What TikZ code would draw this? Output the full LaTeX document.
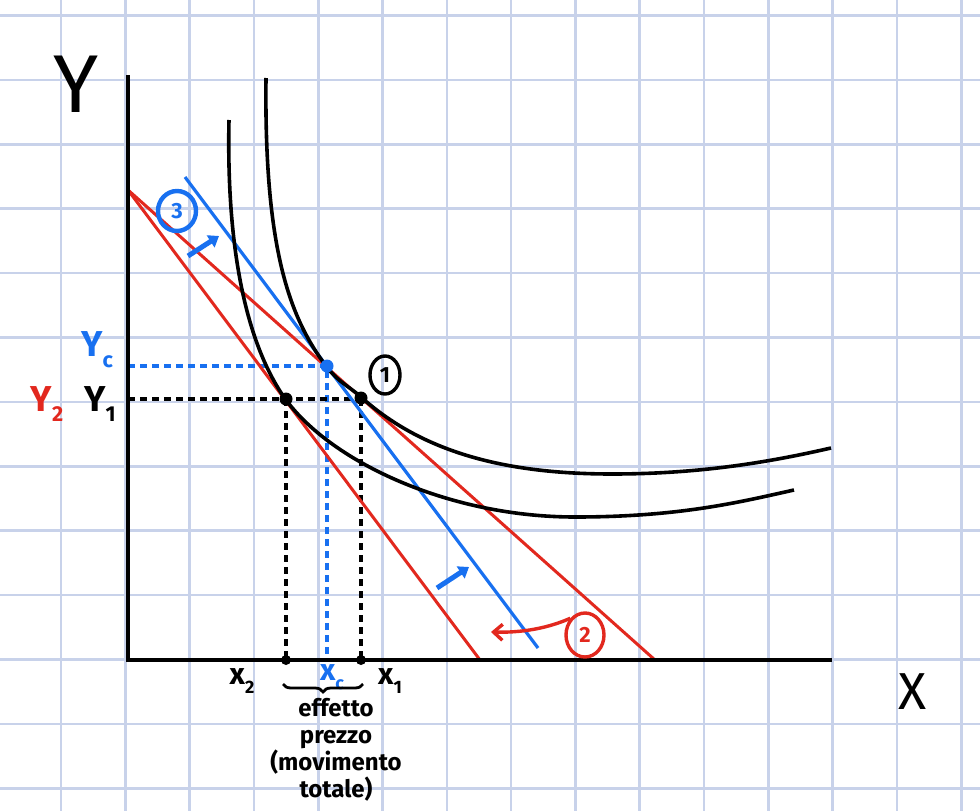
\documentclass[tikz,border=0pt]{standalone}
\usepackage{fontspec}
\usepackage{graphicx}
\setmainfont{Fira Sans}
\usetikzlibrary{arrows.meta,decorations.pathreplacing,shapes.geometric}
\definecolor{gridc}{RGB}{200,210,234}
\definecolor{myred}{RGB}{226,40,30}
\definecolor{myblue}{RGB}{24,112,240}
\newcommand{\lsub}[1]{\raisebox{-0.3em}{\scalebox{0.6}{#1}}}
\begin{document}
\begin{tikzpicture}[x=1pt,y=-1pt,
  gridline/.style={gridc,line width=2.6pt},
  axisline/.style={black,line width=4.4pt},
  icurve/.style={black,line width=3.6pt},
  budget/.style={myred,line width=3pt},
  bline/.style={myblue,line width=3.2pt},
  dashk/.style={black,line width=3.2pt,dash pattern=on 7pt off 5pt},
  dashb/.style={myblue,line width=3.2pt,dash pattern=on 7pt off 5pt},
  dotk/.style={circle,fill=black,inner sep=0pt,minimum size=13pt},
  dotb/.style={circle,fill=myblue,inner sep=0pt,minimum size=13pt},
  tick/.style={circle,fill=black,inner sep=0pt,minimum size=10pt},
  circ/.style={ellipse,draw,line width=3.4pt,inner sep=0pt,minimum width=30pt,minimum height=38pt,font=\bfseries\fontsize{22}{22}\selectfont},
  lab/.style={inner sep=0pt,font=\bfseries\fontsize{36}{36}\selectfont},
  xlab/.style={inner sep=0pt,font=\bfseries\fontsize{30}{30}\selectfont},
  barrow/.style={myblue,line width=5pt,-{Triangle[length=10pt,width=14pt]}}
]
\useasboundingbox (0,0) rectangle (980,811);
\fill[white] (0,0) rectangle (980,811);
% grid
\foreach \k in {-1,...,14} \draw[gridline] ({61+64.3*\k},0) -- ({61+64.3*\k},811);
\foreach \k in {0,...,12} \draw[gridline] (0,{15.5+64.4*\k}) -- (980,{15.5+64.4*\k});

% key coordinates
\coordinate (O) at (128,660);
\coordinate (ytop) at (128,75);
\coordinate (xend) at (832,660);
\coordinate (R0) at (128,190);
\coordinate (Ra) at (480,660);
\coordinate (Rb) at (655,660);
\coordinate (Bs) at (185,177);
\coordinate (Be) at (538,648);
\coordinate (Y1) at (128,399);
\coordinate (YC) at (128,366);

% dashed guides
\draw[dashb] (YC) -- (327,366) -- (327,660);
\draw[dashk] (Y1) -- (361,399);
\draw[dashk] (286,399) -- (286,660);
\draw[dashk] (361,399) -- (361,660);

% budget lines
\draw[budget] (R0) -- (Ra);
\draw[budget] (R0) -- (Rb);
\draw[bline] (Bs) -- (Be);

% indifference curves
\draw[icurve] (266,78) .. controls (264,250) and (290,318) .. (326,366)
  .. controls (338,382) and (350,387) .. (361,397)
  .. controls (420,450) and (500,474) .. (612,474)
  .. controls (700,474) and (770,462) .. (831,448);
\draw[icurve] (229,120) .. controls (226,260) and (250,350) .. (286,400)
  .. controls (333,463) and (450,517) .. (575,517)
  .. controls (680,517) and (740,502) .. (794,490);

% axes
\draw[axisline] (ytop) -- (O) -- (xend);

% points
\node[dotk] (P1) at (361,398) {};
\node[dotk] (P2) at (286,399) {};
\node[dotb] (PC) at (327,366) {};
\node[tick] (X2) at (286,660) {};
\node[tick] (X1) at (361,660) {};

% axis labels
\node[inner sep=0pt,font=\fontsize{82}{82}\selectfont] (ylab) at (76,84) {Y};
\node[inner sep=0pt,font=\fontsize{52}{52}\selectfont] (xlab) at (913,692) {X};

\node[lab,text=myblue] (yc) at (97,350) {Y\lsub{c}};
\node[lab,text=myred] (y2) at (47,404) {Y\lsub{2}};
\node[lab] (y1) at (100,404) {Y\lsub{1}};

\node[xlab] (x2) at (242,681) {x\lsub{2}};
\node[xlab,text=myblue] (xc) at (332,677) {x\lsub{c}};
\node[xlab] (x1) at (390,681) {x\lsub{1}};

% brace and caption
\draw[line width=2.8pt,decorate,decoration={brace,amplitude=8pt,mirror}] (283,684) -- (363,684);
\node[inner sep=0pt,align=center,font=\bfseries\fontsize{24}{27}\selectfont] (cap) at (336,750)
  {effetto\\prezzo\\(movimento\\totale)};

% circled numbers
\node[circ] (c1) at (385,375) {1};
\node[circ,myred,text=myred,minimum width=38pt,minimum height=44pt] (c2) at (585,635) {2};
\node[circ,myblue,text=myblue,line width=4.4pt,minimum width=38pt,minimum height=40pt] (c3) at (177,211) {3};

% arrows
\coordinate (a3s) at (188,256);
\coordinate (a3e) at (219,236);
\draw[barrow] (a3s) -- (a3e);
\coordinate (a4s) at (437,588);
\coordinate (a4e) at (469,567);
\draw[barrow] (a4s) -- (a4e);
\draw[myred,line width=3.4pt,-{Straight Barb[length=9pt,width=16pt]}] (c2.north west) .. controls (555,625) and (530,633) .. (491,632);
\end{tikzpicture}
\end{document}
